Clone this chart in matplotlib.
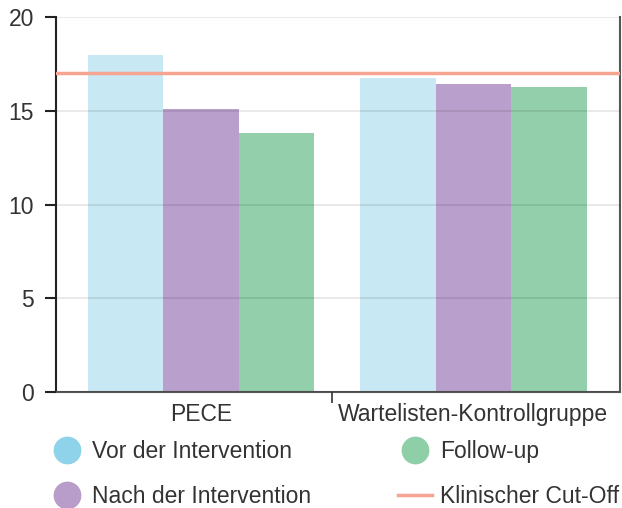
import numpy as np
import matplotlib
matplotlib.use("Agg")
import matplotlib.pyplot as plt
from matplotlib.lines import Line2D

plt.rcParams['font.family'] = ['Liberation Sans', 'DejaVu Sans']

categories = ["PECE", "Wartelisten-Kontrollgruppe"]
series_names = ["Vor der Intervention", "Nach der Intervention", "Follow-up"]
vor = [18.0, 16.75]
nach = [15.1, 16.45]
follow = [13.8, 16.25]
cutoff = 17.0
cutoff_name = "Klinischer Cut-Off"
yticks = [0, 5, 10, 15, 20]

bar_colors = ["#c8e9f3", "#b99fcb", "#92cfaa"]
legend_colors = ["#8fd3ea", "#b89cc9", "#8fcfa7"]
line_color = "#f5a592"
text_color = "#333333"
fs = 16.5

fig = plt.figure(figsize=(6.22, 5.08), dpi=100)
ax = fig.add_axes([0.090, 0.2283, 0.9068, 0.7382])

x = np.arange(len(categories))
w = 0.277
for i, vals in enumerate([vor, nach, follow]):
    ax.bar(x + (i - 1) * w, vals, width=w, color=bar_colors[i], zorder=1)

ax.axhline(cutoff, color=line_color, lw=2.5, zorder=3)

ax.set_ylim(0, 20)
ax.set_xlim(-0.532, 1.538)
ax.set_yticks(yticks)
ax.yaxis.grid(True, color="black", alpha=0.1, lw=1.2, zorder=2)
ax.set_axisbelow(False)

ax.set_xticks(x)
ax.set_xticklabels(categories)
ax.tick_params(axis="x", which="major", length=0, pad=8, labelsize=fs, labelcolor=text_color)
ax.set_xticks([0.48], minor=True)
ax.tick_params(axis="x", which="minor", length=8, width=1.2, color="#333333")
ax.tick_params(axis="y", length=8, width=1.5, pad=8, labelsize=fs, labelcolor=text_color, color="#222222")

ax.spines["top"].set_visible(False)
ax.spines["left"].set_color("#222222")
ax.spines["left"].set_linewidth(1.5)
ax.spines["bottom"].set_color("#555555")
ax.spines["bottom"].set_linewidth(1.5)
ax.spines["right"].set_color("#555555")
ax.spines["right"].set_linewidth(1.5)

handles = [Line2D([], [], ls="", marker="o", markersize=19, markerfacecolor=c, markeredgecolor=c)
           for c in legend_colors]
handles.append(Line2D([], [], color=line_color, lw=2.5))
labels = series_names + [cutoff_name]
fig.legend(handles, labels, ncol=2, loc="upper left", bbox_to_anchor=(0.0804, 0.133),
           frameon=False, fontsize=fs, handlelength=1.48, handletextpad=0.35,
           columnspacing=3.8, labelspacing=0.95, labelcolor=text_color, borderaxespad=0, borderpad=0)

fig.savefig("out.png", dpi=100)
